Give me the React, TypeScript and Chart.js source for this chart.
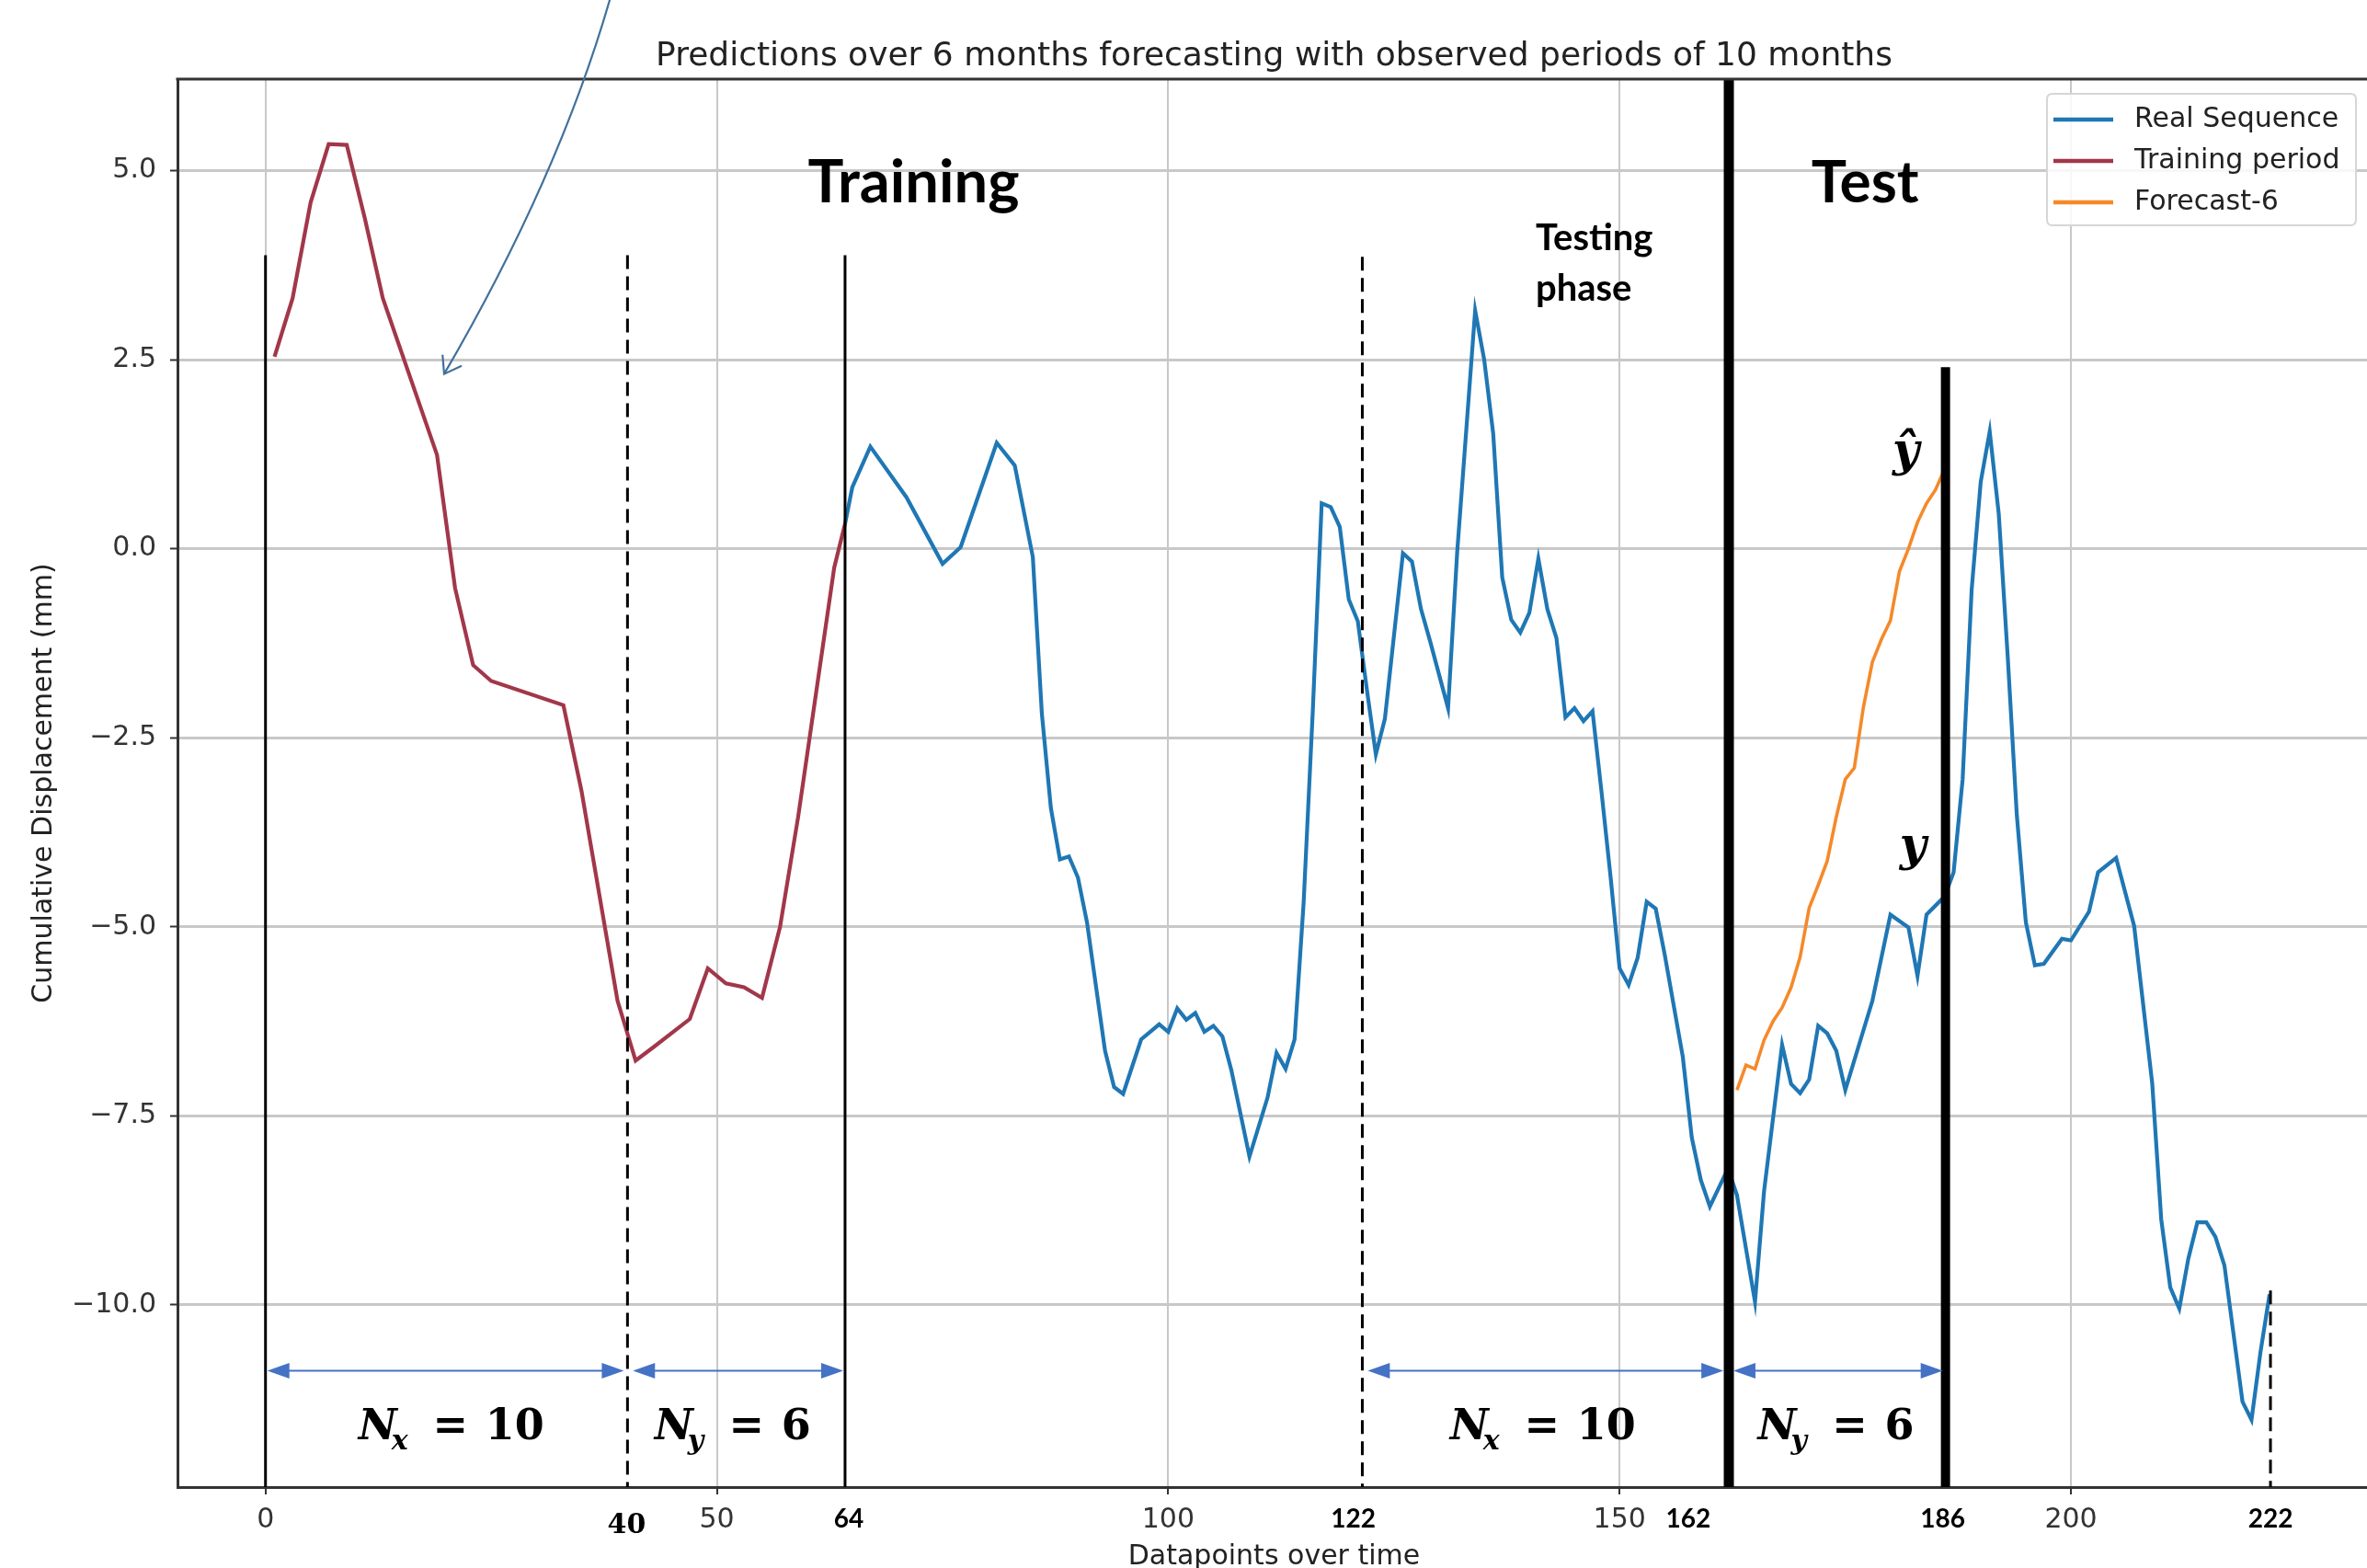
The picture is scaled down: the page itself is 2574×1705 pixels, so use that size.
import React, { useEffect, useRef } from "react";
import { Chart, registerables } from "chart.js";

Chart.register(...registerables);

// ---------- texts ----------
const TITLE = "Predictions over 6 months forecasting with observed periods of 10 months";
const X_LABEL = "Datapoints over time";
const Y_LABEL = "Cumulative Displacement (mm)";

// ---------- ticks ----------
const xTicks = [0, 50, 100, 150, 200];
const yTicks = [5, 2.5, 0, -2.5, -5, -7.5, -10];

// ---------- series ----------
const trainX = [1, 3, 5, 7, 9, 11, 13, 19, 21, 23, 25, 33, 35, 39, 41, 43, 47, 49, 51, 53, 55, 57, 59, 61, 63, 64.2];
const trainY = [2.54, 3.31, 4.58, 5.35, 5.34, 4.37, 3.31, 1.24, -0.52, -1.54, -1.75, -2.07, -3.2, -5.98, -6.77, -6.59, -6.22, -5.55, -5.75, -5.8, -5.94, -5.0, -3.55, -1.9, -0.25, 0.33];

const realX = [64.2, 65, 67, 71, 75, 77, 81, 83, 85, 86, 87, 88, 89, 90, 91, 93, 94, 95, 97, 99, 100, 101, 102, 103, 104, 105, 106, 107, 109, 111, 112, 113, 114, 115, 116, 117, 118, 119, 120, 121, 122, 123, 124, 126, 127, 128, 129, 131, 132, 134, 135, 136, 137, 138, 139, 140, 141, 142, 143, 144, 145, 146, 147, 148, 149, 150, 151, 152, 153, 154, 155, 157, 158, 159, 160, 161, 162, 163, 165, 166, 168, 169, 170, 171, 172, 173, 174, 175, 178, 180, 182, 183, 184, 186, 187, 188, 189, 190, 191, 192, 193, 194, 195, 196, 197, 199, 200, 202, 203, 205, 207, 209, 210, 211, 212, 213, 214, 215, 216, 217, 219, 220, 221, 222];
const realY = [0.33, 0.81, 1.35, 0.68, -0.2, 0.02, 1.4, 1.1, -0.11, -2.18, -3.43, -4.11, -4.07, -4.35, -4.94, -6.64, -7.12, -7.21, -6.49, -6.29, -6.39, -6.08, -6.23, -6.14, -6.39, -6.31, -6.45, -6.9, -8.04, -7.26, -6.67, -6.88, -6.49, -4.68, -2.18, 0.6, 0.55, 0.29, -0.67, -0.96, -1.86, -2.72, -2.25, -0.06, -0.17, -0.8, -1.22, -2.11, -0.06, 3.15, 2.5, 1.52, -0.38, -0.94, -1.11, -0.85, -0.13, -0.8, -1.18, -2.23, -2.11, -2.28, -2.15, -3.22, -4.34, -5.55, -5.77, -5.41, -4.67, -4.76, -5.37, -6.72, -7.79, -8.35, -8.7, -8.45, -8.2, -8.55, -9.96, -8.5, -6.56, -7.08, -7.2, -7.02, -6.31, -6.41, -6.64, -7.16, -5.98, -4.84, -5.01, -5.65, -4.84, -4.6, -4.28, -3.05, -0.54, 0.88, 1.55, 0.46, -1.44, -3.52, -4.94, -5.51, -5.49, -5.16, -5.18, -4.8, -4.28, -4.09, -4.99, -7.07, -8.87, -9.77, -10.05, -9.39, -8.91, -8.91, -9.1, -9.48, -11.28, -11.52, -10.62, -9.86];

const forecastX = [163, 164, 165, 166, 167, 168, 169, 170, 171, 172, 173, 174, 175, 176, 177, 178, 179, 180, 181, 182, 183, 184, 185, 186];
const forecastY = [-7.16, -6.83, -6.88, -6.5, -6.25, -6.07, -5.8, -5.4, -4.75, -4.45, -4.13, -3.55, -3.05, -2.9, -2.1, -1.5, -1.2, -0.95, -0.3, 0.0, 0.35, 0.6, 0.78, 1.05];

// ---------- annotation layout (data coordinates) ----------
const boundaryX = [0, 40.1, 64.2, 121.5, 162.1, 186.1, 222.1];
const boundaryTop = [3.88, 3.88, 3.88, 3.86, null, 2.4, -9.81];
const boundaryWidth = [3, 3, 3, 3, 11, 10, 3];
const boundaryDashed = [false, true, false, true, false, false, true];

const markLabels = ["40", "64", "122", "162", "186", "222"];
const markLabelX = [40.0, 64.6, 120.5, 157.6, 185.8, 222.1];

const spanFrom = [0.2, 40.7, 122.1, 162.6];
const spanTo = [39.7, 64.0, 161.5, 185.8];
const spanY = -10.87;
const spanSub = ["x", "y", "x", "y"];
const spanValue = ["10", "6", "10", "6"];
const spanLabelLeft = [10.3, 43.1, 131.2, 165.3];
const spanLabelBaseline = -11.78;

const phaseText = ["Training", "Test", "Testing", "phase"];
const phaseX = [71.8, 177.2, 140.7, 140.7];
const phaseY = [4.58, 4.58, 3.95, 3.28];
const phaseSize = [65, 64, 40, 40];
const phaseAlign = ["center", "center", "left", "left"];

const hatText = ["ŷ", "y"];
const hatX = [181.7, 182.5];
const hatY = [1.1, -4.11];

// curved pointer arrow: start, control, tip
const curveX = [38.14, 32.43, 19.79];
const curveY = [7.26, 4.9, 2.31];

const COLORS = { real: "#1f77b4", train: "#a2374a", forecast: "#f5892a" };
const SANS = '"DejaVu Sans", "Noto Sans", sans-serif';
const BOLD_SANS = 'Lato, "Open Sans", sans-serif';
const SERIF = '"DejaVu Serif", "Liberation Serif", serif';

const W = 2578;
const H = 1740;

const pts = (xs: number[], ys: number[]) => xs.map((x, i) => ({ x, y: ys[i] }));

const annotationPlugin = {
  id: "annotations",
  afterDatasetsDraw(chart: any) {
    const { ctx, chartArea, scales } = chart;
    const xs = scales.x;
    const ys = scales.y;
    const px = (v: number) => xs.getPixelForValue(v);
    const py = (v: number) => ys.getPixelForValue(v);
    ctx.save();

    // vertical boundary lines
    boundaryX.forEach((bx, i) => {
      ctx.beginPath();
      ctx.strokeStyle = "#000";
      ctx.lineWidth = boundaryWidth[i];
      ctx.setLineDash(boundaryDashed[i] ? [15, 8] : []);
      const top = boundaryTop[i] === null ? chartArea.top - 1 : py(boundaryTop[i] as number);
      ctx.moveTo(px(bx), top);
      ctx.lineTo(px(bx), chartArea.bottom);
      ctx.stroke();
    });
    ctx.setLineDash([]);

    // double-headed span arrows
    const headL = 24;
    const headH = 8.5;
    ctx.strokeStyle = "#4472c4";
    ctx.fillStyle = "#4472c4";
    spanFrom.forEach((fx, i) => {
      const x1 = px(fx);
      const x2 = px(spanTo[i]);
      const y = py(spanY);
      ctx.beginPath();
      ctx.lineWidth = 2;
      ctx.moveTo(x1 + headL - 2, y);
      ctx.lineTo(x2 - headL + 2, y);
      ctx.stroke();
      ctx.beginPath();
      ctx.moveTo(x1, y);
      ctx.lineTo(x1 + headL, y - headH);
      ctx.lineTo(x1 + headL, y + headH);
      ctx.closePath();
      ctx.fill();
      ctx.beginPath();
      ctx.moveTo(x2, y);
      ctx.lineTo(x2 - headL, y - headH);
      ctx.lineTo(x2 - headL, y + headH);
      ctx.closePath();
      ctx.fill();
    });

    // N_x = 10 / N_y = 6 labels
    ctx.fillStyle = "#000";
    ctx.textBaseline = "alphabetic";
    spanLabelLeft.forEach((lx, i) => {
      const L = px(lx);
      const B = py(spanLabelBaseline);
      ctx.textAlign = "left";
      ctx.font = `italic bold 46px ${SERIF}`;
      ctx.fillText("N", L, B);
      const wN = ctx.measureText("N").width;
      ctx.font = `italic bold 30px ${SERIF}`;
      ctx.fillText(spanSub[i], L + wN - 6, B + 11);
      ctx.font = `bold 46px ${SERIF}`;
      ctx.textAlign = "center";
      ctx.fillText("=", L + 100, B);
      ctx.textAlign = "left";
      ctx.fillText(spanValue[i], L + 138, B);
    });

    // phase texts
    phaseText.forEach((t, i) => {
      ctx.font = `bold ${phaseSize[i]}px ${BOLD_SANS}`;
      ctx.textAlign = phaseAlign[i] as CanvasTextAlign;
      ctx.fillText(t, px(phaseX[i]), py(phaseY[i]));
    });

    // y-hat / y labels
    ctx.font = `italic bold 50px ${SERIF}`;
    ctx.textAlign = "center";
    hatText.forEach((t, i) => {
      ctx.fillText(t, px(hatX[i]), py(hatY[i]));
    });

    // bold boundary tick labels below the axis
    markLabels.forEach((t, i) => {
      const serif = t === "40";
      ctx.font = serif ? `bold 30px ${SERIF}` : `bold 28px ${BOLD_SANS}`;
      ctx.textAlign = "center";
      ctx.fillText(t, px(markLabelX[i]), chartArea.bottom + (serif ? 50 : 44));
    });

    ctx.restore();
  },
  afterDraw(chart: any) {
    const { ctx, chartArea, scales } = chart;
    const xs = scales.x;
    const ys = scales.y;
    const px = (v: number) => xs.getPixelForValue(v);
    const py = (v: number) => ys.getPixelForValue(v);
    ctx.save();

    // top spine
    ctx.beginPath();
    ctx.strokeStyle = "#333";
    ctx.lineWidth = 3;
    ctx.moveTo(chartArea.left - 1.5, chartArea.top);
    ctx.lineTo(chartArea.right, chartArea.top);
    ctx.stroke();

    // curved pointer arrow
    const p0 = [px(curveX[0]), py(curveY[0])];
    const p1 = [px(curveX[1]), py(curveY[1])];
    const p2 = [px(curveX[2]), py(curveY[2])];
    ctx.beginPath();
    ctx.strokeStyle = "#41719c";
    ctx.lineWidth = 2.2;
    ctx.moveTo(p0[0], p0[1]);
    ctx.quadraticCurveTo(p1[0], p1[1], p2[0], p2[1]);
    ctx.stroke();
    const ang = Math.atan2(p1[1] - p2[1], p1[0] - p2[0]);
    const arm = 21;
    const spread = (35 * Math.PI) / 180;
    ctx.beginPath();
    ctx.moveTo(p2[0] + arm * Math.cos(ang + spread), p2[1] + arm * Math.sin(ang + spread));
    ctx.lineTo(p2[0], p2[1]);
    ctx.lineTo(p2[0] + arm * Math.cos(ang - spread), p2[1] + arm * Math.sin(ang - spread));
    ctx.stroke();

    // legend (upper right, inside axes)
    const bw = 336;
    const bh = 143;
    const bx = chartArea.right - 16 - bw;
    const by = chartArea.top + 16;
    ctx.beginPath();
    const r = 6;
    ctx.moveTo(bx + r, by);
    ctx.lineTo(bx + bw - r, by);
    ctx.quadraticCurveTo(bx + bw, by, bx + bw, by + r);
    ctx.lineTo(bx + bw, by + bh - r);
    ctx.quadraticCurveTo(bx + bw, by + bh, bx + bw - r, by + bh);
    ctx.lineTo(bx + r, by + bh);
    ctx.quadraticCurveTo(bx, by + bh, bx, by + bh - r);
    ctx.lineTo(bx, by + r);
    ctx.quadraticCurveTo(bx, by, bx + r, by);
    ctx.closePath();
    ctx.fillStyle = "rgba(255,255,255,0.85)";
    ctx.fill();
    ctx.strokeStyle = "#d6d6d6";
    ctx.lineWidth = 2;
    ctx.stroke();
    chart.data.datasets.forEach((ds: any, i: number) => {
      const cy = by + 28 + i * 45;
      ctx.beginPath();
      ctx.strokeStyle = ds.borderColor;
      ctx.lineWidth = 4.5;
      ctx.moveTo(bx + 7, cy);
      ctx.lineTo(bx + 72, cy);
      ctx.stroke();
      ctx.fillStyle = "#222";
      ctx.font = `30px ${SANS}`;
      ctx.textAlign = "left";
      ctx.textBaseline = "middle";
      ctx.fillText(ds.label, bx + 95, cy);
    });
    ctx.restore();
  },
};

export default function App() {
  const ref = useRef<HTMLCanvasElement | null>(null);

  useEffect(() => {
    const canvas = ref.current;
    if (!canvas) return;
    const prevOverflow = document.documentElement.style.overflow;
    document.documentElement.style.overflow = "hidden";
    const chart = new Chart(canvas, {
      type: "line",
      data: {
        datasets: [
          {
            label: "Real Sequence",
            data: pts(realX, realY),
            borderColor: COLORS.real,
            backgroundColor: COLORS.real,
            borderWidth: 4.2,
            pointRadius: 0,
            tension: 0,
          },
          {
            label: "Training period",
            data: pts(trainX, trainY),
            borderColor: COLORS.train,
            backgroundColor: COLORS.train,
            borderWidth: 4.2,
            pointRadius: 0,
            tension: 0,
          },
          {
            label: "Forecast-6",
            data: pts(forecastX, forecastY),
            borderColor: COLORS.forecast,
            backgroundColor: COLORS.forecast,
            borderWidth: 3.6,
            pointRadius: 0,
            tension: 0,
          },
        ],
      },
      options: {
        responsive: false,
        animation: false,
        devicePixelRatio: 1,
        layout: { padding: 0 },
        plugins: {
          legend: { display: false },
          tooltip: { enabled: false },
          title: {
            display: true,
            text: TITLE,
            fullSize: false,
            color: "#222",
            font: { family: SANS, size: 36, weight: "normal" },
            padding: { top: 40, bottom: 2.8 },
          },
        },
        scales: {
          x: {
            type: "linear",
            min: -9.75,
            max: 233.2,
            afterFit: (s: any) => {
              s.height = 123;
            },
            afterBuildTicks: (s: any) => {
              s.ticks = xTicks.map((v) => ({ value: v }));
            },
            ticks: {
              color: "#333",
              font: { family: SANS, size: 30 },
              padding: 10,
              maxRotation: 0,
              autoSkip: false,
              callback: (v: any) => String(v),
            },
            grid: {
              color: "#c8c8c8",
              lineWidth: 2,
              tickLength: 8,
              tickColor: "#333",
              tickWidth: 2,
            },
            border: { color: "#333", width: 3 },
            title: {
              display: true,
              text: X_LABEL,
              color: "#222",
              font: { family: SANS, size: 30 },
              padding: { top: 0, bottom: 29 },
            },
          },
          y: {
            type: "linear",
            min: -12.41,
            max: 6.21,
            afterFit: (s: any) => {
              s.width = 193;
            },
            afterBuildTicks: (s: any) => {
              s.ticks = yTicks.map((v) => ({ value: v }));
            },
            ticks: {
              color: "#333",
              font: { family: SANS, size: 30 },
              padding: 15,
              autoSkip: false,
              callback: (v: any) => (Number(v) < 0 ? "\u2212" : "") + Math.abs(Number(v)).toFixed(1),
            },
            grid: {
              color: "#c8c8c8",
              lineWidth: 3,
              tickLength: 8,
              tickColor: "#333",
              tickWidth: 2,
            },
            border: { color: "#333", width: 3 },
            title: {
              display: true,
              text: Y_LABEL,
              color: "#222",
              font: { family: SANS, size: 30 },
              padding: { top: 30, bottom: 0 },
            },
          },
        },
      },
      plugins: [annotationPlugin],
    } as any);
    return () => {
      chart.destroy();
      document.documentElement.style.overflow = prevOverflow;
    };
  }, []);

  return (
    <div style={{ position: "fixed", left: 0, top: 0, width: W, height: H, background: "#fff" }}>
      <canvas ref={ref} width={W} height={H} style={{ width: W, height: H, display: "block" }} />
    </div>
  );
}
